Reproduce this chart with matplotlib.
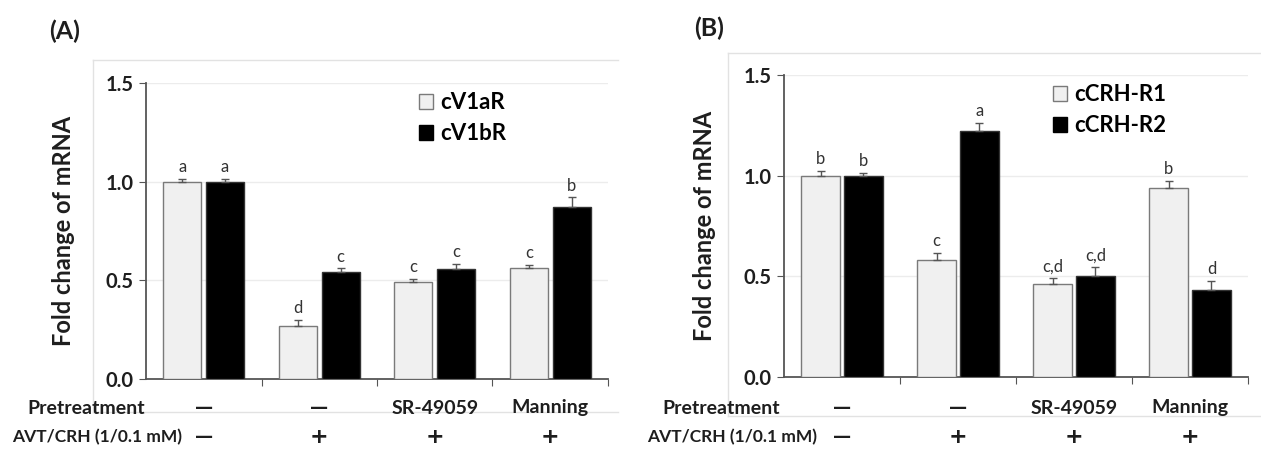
import matplotlib
matplotlib.use('Agg')
import matplotlib.pyplot as plt
from matplotlib.patches import Patch
from matplotlib.lines import Line2D
import numpy as np

matplotlib.rcParams['font.family'] = ['Lato', 'DejaVu Sans']

# panel A
a_light = [1.00, 0.27, 0.49, 0.56]
a_light_err = [0.015, 0.03, 0.015, 0.02]
a_dark = [1.00, 0.54, 0.555, 0.87]
a_dark_err = [0.015, 0.02, 0.03, 0.05]
a_light_lbl = ['a', 'd', 'c', 'c']
a_dark_lbl = ['a', 'c', 'c', 'b']
a_names = ['cV1aR', 'cV1bR']

# panel B
b_light = [1.00, 0.58, 0.46, 0.94]
b_light_err = [0.025, 0.035, 0.03, 0.035]
b_dark = [1.00, 1.22, 0.50, 0.43]
b_dark_err = [0.015, 0.04, 0.045, 0.045]
b_light_lbl = ['b', 'c', 'c,d', 'b']
b_dark_lbl = ['b', 'a', 'c,d', 'd']
b_names = ['cCRH-R1', 'cCRH-R2']

pretreat = ['\u2014', '\u2014', 'SR-49059', 'Manning']
avt = ['\u2014', '+', '+', '+']

W, H = 1261, 449
fig = plt.figure(figsize=(W / 100, H / 100), dpi=100)
txt_c = '#1e1e1e'
light_c = '#f0f0f0'
edge_c = '#7a7a7a'


def sym_text(ax, x, y, s, tr):
    # dash / plus signs drawn thick, like the original
    ax.text(x, y, s, transform=tr, ha='center', va='center',
            fontsize=13 if s == '\u2014' else 16, fontweight='bold',
            family='DejaVu Sans', color=txt_c)


def panel(box, light, lerr, dark, derr, llbl, dlbl, names, tag, tagpos,
          rows_y, lab_x, ylab_x, leg_px):
    x0, y0, x1, y1 = box
    ax = fig.add_axes([x0 / W, 1 - y1 / H, (x1 - x0) / W, (y1 - y0) / H])
    x = np.arange(4)
    w = 0.33
    off = 0.185
    ax.bar(x - off, light, w, color=light_c, edgecolor=edge_c, linewidth=1,
           zorder=3)
    ax.bar(x + off, dark, w, color='black', edgecolor='#333333', linewidth=1,
           zorder=3)
    ax.errorbar(x - off, light, yerr=[np.zeros(4), lerr], fmt='none',
                ecolor='#555555', elinewidth=1, capsize=3, capthick=1, zorder=4)
    ax.errorbar(x + off, dark, yerr=[np.zeros(4), derr], fmt='none',
                ecolor='#555555', elinewidth=1, capsize=3, capthick=1, zorder=4)
    for i in range(4):
        ax.text(x[i] - off, light[i] + lerr[i] + 0.02, llbl[i], ha='center',
                va='bottom', fontsize=12, color='#333333')
        ax.text(x[i] + off, dark[i] + derr[i] + 0.02, dlbl[i], ha='center',
                va='bottom', fontsize=12, color='#333333')
    ax.set_xlim(-0.5, 3.5)
    ax.set_ylim(0, 1.5)
    ax.set_yticks([0, 0.5, 1.0, 1.5])
    ax.set_yticklabels(['0.0', '0.5', '1.0', '1.5'], fontsize=14.5,
                       fontweight='bold', color=txt_c)
    ax.set_xticks([0.5, 1.5, 2.5, 3.5])
    ax.set_xticklabels([])
    ax.tick_params(axis='x', direction='out', length=5, color='#555555')
    ax.tick_params(axis='y', direction='out', length=5, color='#555555', pad=4)
    ax.grid(axis='y', color='#ececec', linewidth=1, zorder=0)
    for s in ['top', 'right']:
        ax.spines[s].set_visible(False)
    for s in ['left', 'bottom']:
        ax.spines[s].set_color('#555555')
        ax.spines[s].set_linewidth(1.3)
    ax.set_ylabel('Fold change of mRNA', fontsize=17, fontweight='bold',
                  color=txt_c)
    ax.yaxis.set_label_coords((ylab_x - x0) / (x1 - x0), 0.5)

    handles = [Patch(facecolor=light_c, edgecolor=edge_c, label=names[0]),
               Patch(facecolor='black', edgecolor='black', label=names[1])]
    lx = (leg_px[0] - x0) / (x1 - x0)
    ly = (y1 - leg_px[1]) / (y1 - y0)
    ax.legend(handles=handles, loc='upper left', bbox_to_anchor=(lx, ly),
              frameon=False, prop={'weight': 'bold', 'size': 16},
              borderpad=0, borderaxespad=0,
              handlelength=0.65, handleheight=0.65, handletextpad=0.3,
              labelspacing=0.45)

    tr = ax.get_xaxis_transform()
    ry = [(y1 - r) / (y1 - y0) for r in rows_y]
    for i in range(4):
        if pretreat[i] == '\u2014':
            sym_text(ax, x[i], ry[0], pretreat[i], tr)
        else:
            ax.text(x[i], ry[0], pretreat[i], transform=tr, ha='center',
                    va='center', fontsize=14, fontweight='bold', color=txt_c)
        sym_text(ax, x[i], ry[1], avt[i], tr)
    fig.text(lab_x[0] / W, 1 - rows_y[0] / H, 'Pretreatment', ha='left',
             va='center', fontsize=14, fontweight='bold', color=txt_c)
    fig.text(lab_x[1] / W, 1 - rows_y[1] / H, 'AVT/CRH (1/0.1 mM)', ha='left',
             va='center', fontsize=12.5, fontweight='bold', color=txt_c)
    fig.text(tagpos[0] / W, 1 - tagpos[1] / H, tag, ha='center', va='center',
             fontsize=18, fontweight='bold', color=txt_c)
    return ax


panel((146, 83, 608, 379), a_light, a_light_err, a_dark, a_dark_err,
      a_light_lbl, a_dark_lbl, a_names, '(A)', (65, 31),
      (408, 437), (27, 12), 75, (419, 92))
panel((784, 75, 1248, 377), b_light, b_light_err, b_dark, b_dark_err,
      b_light_lbl, b_dark_lbl, b_names, '(B)', (709, 28),
      (408, 437), (662, 647), 716, (1053, 84))

# faint frame lines left from the original chart areas
faint = '#e2e2e2'
segs = [((93, 618), (60, 60)), ((93, 618), (412, 412)), ((93, 93), (60, 412)),
        ((728, 1261), (53, 53)), ((728, 1261), (416, 416)),
        ((728, 728), (53, 416))]
for xs, ys in segs:
    fig.add_artist(Line2D([xs[0] / W, xs[1] / W],
                          [1 - ys[0] / H, 1 - ys[1] / H],
                          color=faint, linewidth=1, zorder=0))

plt.savefig('out.png', dpi=100)
